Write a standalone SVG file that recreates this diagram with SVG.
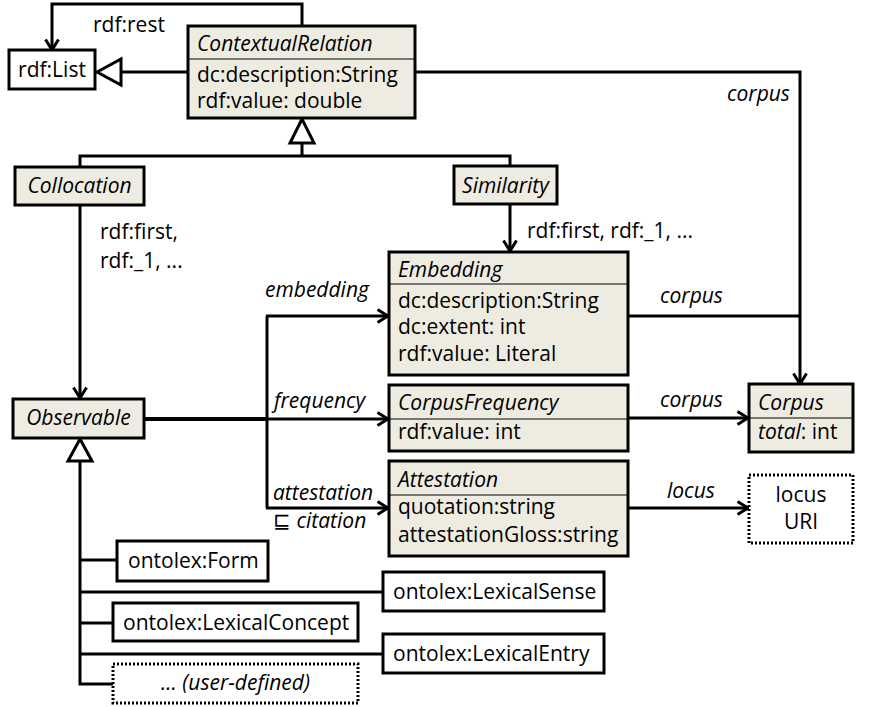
<svg xmlns="http://www.w3.org/2000/svg" width="871" height="707" viewBox="0 0 871 707">
  <style>
    text { font-family: "Open Sans", "Liberation Sans", sans-serif; font-size: 21px; fill: #000; }
    .it { font-style: italic; }
    .mid { text-anchor: middle; }
    .cls { fill: #eeece1; stroke: #000; stroke-width: 3; }
    .box { fill: #fff; stroke: #000; stroke-width: 3; }
    .dot { fill: #fff; stroke: #000; stroke-width: 3; stroke-dasharray: 2 2; }
    .sep { stroke: #000; stroke-width: 1.2; }
    .ln { fill: none; stroke: #000; stroke-width: 3; }
    .arr { marker-end: url(#arrow); }
    .gen { fill: #fff; stroke: #000; stroke-width: 3; stroke-linejoin: miter; }
  </style>
  <defs>
    <marker id="arrow" viewBox="0 0 14 16" refX="12" refY="8" markerWidth="14" markerHeight="16" markerUnits="userSpaceOnUse" orient="auto">
      <path d="M1.5,1.5 L12,8 L1.5,14.5" fill="none" stroke="#000" stroke-width="3"/>
    </marker>
  </defs>

  <!-- connectors -->
  <g id="connectors">
    <!-- rdf:rest loop -->
    <path class="ln arr" d="M302,26 V4 H52 V50"/>
    <!-- ContextualRelation subclass of rdf:List -->
    <path class="ln" d="M188,72 H121"/>
    <polygon class="gen" points="97,72 121,59 121,85"/>
    <!-- corpus from ContextualRelation -->
    <path class="ln arr" d="M415,72 H800 V384"/>
    <!-- Collocation / Similarity subclass of ContextualRelation -->
    <polygon class="gen" points="302,119 290,143 314,143"/>
    <path class="ln" d="M302,143 V156 M80,167 V156 H510 V166"/>
    <!-- rdf:first lists -->
    <path class="ln arr" d="M80,205 V398"/>
    <path class="ln arr" d="M510,204 V251"/>
    <!-- Observable properties -->
    <path d="M144,419 H267" fill="none" stroke="#000" stroke-width="4"/>
    <path class="ln arr" d="M267,419 H388"/>
    <path class="ln" d="M267,316 V508"/>
    <path class="ln arr" d="M266,316 H388"/>
    <path class="ln arr" d="M266,508 H388"/>
    <!-- corpus / locus links -->
    <path class="ln" d="M628,316 H800"/>
    <path class="ln arr" d="M628,418 H748"/>
    <path class="ln arr" d="M628,508 H748"/>
    <!-- subclasses of Observable -->
    <polygon class="gen" points="80,439 68,461 92,461"/>
    <path class="ln" d="M80,461 V684 H113 M80,560 H117 M80,592 H383 M80,623 H113 M80,654 H383"/>
  </g>

  <!-- connector labels -->
  <g id="labels">
    <text x="93" y="32">rdf:rest</text>
    <text class="it" x="727" y="101">corpus</text>
    <text x="100" y="239">rdf:first,</text>
    <text x="100" y="268">rdf:_1, ...</text>
    <text x="527" y="238">rdf:first, rdf:_1, ...</text>
    <text class="it" x="265" y="297">embedding</text>
    <text class="it" x="274" y="408">frequency</text>
    <text class="it" x="273" y="500">attestation</text>
    <text x="273" y="528">⊑ <tspan class="it">citation</tspan></text>
    <text class="it" x="660" y="303">corpus</text>
    <text class="it" x="660" y="407">corpus</text>
    <text class="it" x="667" y="498">locus</text>
  </g>

  <g id="rdfList">
    <rect class="box" x="9" y="50" width="86" height="39"/>
    <text class="mid" x="52" y="77">rdf:List</text>
  </g>

  <g id="contextualRelation">
    <rect class="cls" x="188" y="26" width="227" height="92"/>
    <line class="sep" x1="188" y1="59" x2="415" y2="59"/>
    <text class="it" x="197" y="51">ContextualRelation</text>
    <text x="197" y="82">dc:description:String</text>
    <text x="197" y="108">rdf:value: double</text>
  </g>

  <g id="collocation">
    <rect class="cls" x="15" y="167" width="129" height="38"/>
    <text class="it mid" x="79.5" y="193">Collocation</text>
  </g>

  <g id="similarity">
    <rect class="cls" x="454" y="166" width="103" height="38"/>
    <text class="it mid" x="505.5" y="193">Similarity</text>
  </g>

  <g id="embedding">
    <rect class="cls" x="389" y="252" width="239" height="123"/>
    <line class="sep" x1="389" y1="284" x2="628" y2="284"/>
    <text class="it" x="398" y="277">Embedding</text>
    <text x="398" y="308">dc:description:String</text>
    <text x="398" y="334">dc:extent: int</text>
    <text x="398" y="361">rdf:value: Literal</text>
  </g>

  <g id="corpusFrequency">
    <rect class="cls" x="389" y="385" width="239" height="66"/>
    <line class="sep" x1="389" y1="419" x2="628" y2="419"/>
    <text class="it" x="398" y="410">CorpusFrequency</text>
    <text x="398" y="439">rdf:value: int</text>
  </g>

  <g id="attestation">
    <rect class="cls" x="389" y="461" width="239" height="95"/>
    <line class="sep" x1="389" y1="495" x2="628" y2="495"/>
    <text class="it" x="398" y="487">Attestation</text>
    <text x="398" y="514">quotation:string</text>
    <text x="398" y="542">attestationGloss:string</text>
  </g>

  <g id="corpus">
    <rect class="cls" x="749" y="384" width="104" height="68"/>
    <line class="sep" x1="749" y1="418" x2="853" y2="418"/>
    <text class="it" x="758" y="410">Corpus</text>
    <text x="758" y="439"><tspan class="it">total</tspan>: int</text>
  </g>

  <g id="locusURI">
    <rect class="dot" x="749" y="475" width="104" height="68"/>
    <text class="mid" x="801" y="502">locus</text>
    <text class="mid" x="801" y="529">URI</text>
  </g>

  <g id="observable">
    <rect class="cls" x="13" y="399" width="131" height="39"/>
    <text class="it mid" x="78.5" y="425">Observable</text>
  </g>

  <g id="form">
    <rect class="box" x="117" y="541" width="151" height="40"/>
    <text x="128" y="568">ontolex:Form</text>
  </g>

  <g id="lexicalSense">
    <rect class="box" x="383" y="572" width="221" height="39"/>
    <text x="393" y="599">ontolex:LexicalSense</text>
  </g>

  <g id="lexicalConcept">
    <rect class="box" x="113" y="603" width="245" height="38"/>
    <text x="123" y="630">ontolex:LexicalConcept</text>
  </g>

  <g id="lexicalEntry">
    <rect class="box" x="383" y="634" width="221" height="39"/>
    <text x="393" y="661">ontolex:LexicalEntry</text>
  </g>

  <g id="userDefined">
    <rect class="dot" x="113" y="664" width="245" height="39"/>
    <text class="it mid" x="235.5" y="690">... (user-defined)</text>
  </g>
</svg>
